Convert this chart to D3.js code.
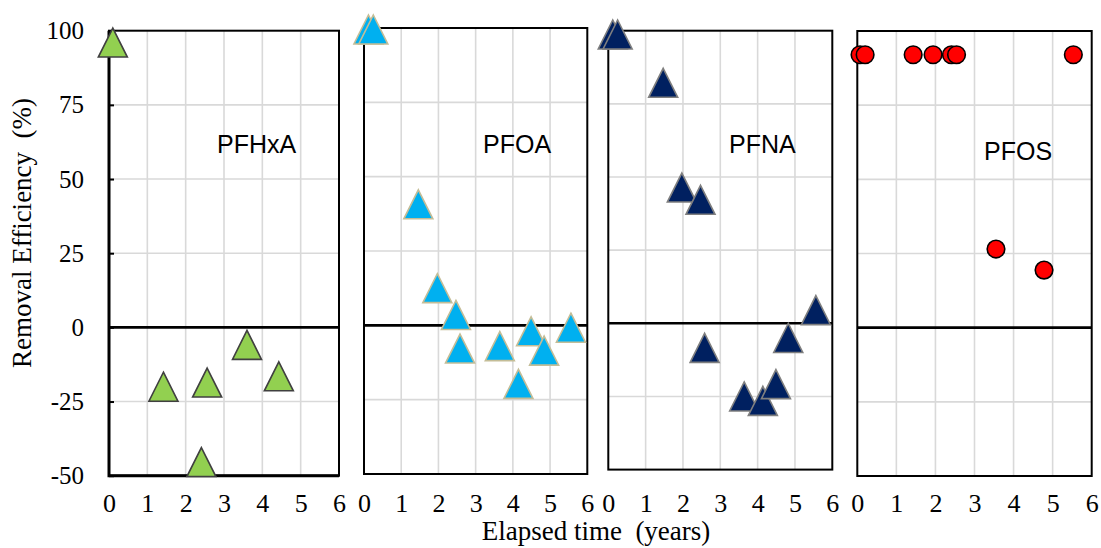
<!DOCTYPE html>
<html>
<head>
<meta charset="utf-8">
<script src="https://cdn.jsdelivr.net/npm/d3@7"></script>
<style>
  body { margin: 0; background: #fff; }
  svg { display: block; }
</style>
</head>
<body>
<svg id="chart" width="1101" height="548"></svg>
<script>
// values
var ticksX = [0, 1, 2, 3, 4, 5, 6];
var ticksY = [-50, -25, 0, 25, 50, 75, 100];
var compounds = ['PFHxA', 'PFOA', 'PFNA', 'PFOS'];

var pfhxaT = [0.1, 1.42, 2.41, 2.56, 3.6, 4.43];
var pfhxaE = [96, -20, -45.4, -18.6, -5.9, -16.5];

var pfoaT = [0.12, 0.25, 1.46, 1.97, 2.47, 2.58, 3.65, 4.15, 4.49, 4.84, 5.56];
var pfoaE = [99.5, 99.5, 40.7, 12.5, 3.5, -7.8, -7.0, -19.7, -2.0, -8.5, -0.8];

var pfnaT = [0.12, 0.25, 1.47, 1.97, 2.47, 2.58, 3.64, 4.14, 4.49, 4.82, 5.56];
var pfnaE = [98.7, 98.7, 82.2, 46.4, 42.2, -8.4, -25.0, -26.5, -20.8, -5.0, 4.5];

var pfosT = [0.07, 0.2, 1.43, 1.94, 2.41, 2.54, 3.55, 4.78, 5.53];
var pfosE = [92, 92, 92, 92, 92, 92, 26.5, 19.4, 92];

var seriesT = [pfhxaT, pfoaT, pfnaT, pfosT];
var seriesE = [pfhxaE, pfoaE, pfnaE, pfosE];

// layout of the four boxes (the source figure was pasted together, boxes are not perfectly aligned)
var boxes = [
    {x0: 109,   x1: 339,    y0: 30.7, y1: 475.7, lx: 217, ly: 153},
    {x0: 364,   x1: 587.3,  y0: 28,   y1: 474,   lx: 483, ly: 153},
    {x0: 608.3, x1: 832.3,  y0: 30.7, y1: 469.6, lx: 729, ly: 153},
    {x0: 857.3, x1: 1091.7, y0: 31,   y1: 476,   lx: 984, ly: 160}
];
var styles = [
    {shape: 'tri', fill: '#92D050', stroke: '#404040'},
    {shape: 'tri', fill: '#00B0F0', stroke: '#C4BD97'},
    {shape: 'tri', fill: '#002060', stroke: '#7F7F7F'},
    {shape: 'dot', fill: '#FF0000', stroke: '#000000'}
];

var svg = d3.select('#chart');
var serif = '"Liberation Serif", "Times New Roman", serif';
var sans = '"Liberation Sans", Arial, sans-serif';

var triPath = function(w, h)
{
    return 'M0,' + (-h / 2) + 'L' + (w / 2) + ',' + (h / 2) + 'L' + (-w / 2) + ',' + (h / 2) + 'Z';
};

compounds.forEach(function(name, i)
{
    var b = boxes[i];
    var st = styles[i];
    var x = d3.scaleLinear().domain([0, 6]).range([b.x0, b.x1]);
    var y = d3.scaleLinear().domain([-50, 100]).range([b.y1, b.y0]);
    var g = svg.append('g').attr('class', 'panel');

    // grid
    g.selectAll('.vgrid').data(ticksX.slice(1, -1)).enter()
        .append('line')
        .attr('x1', function(d) { return x(d); })
        .attr('x2', function(d) { return x(d); })
        .attr('y1', b.y0).attr('y2', b.y1)
        .attr('stroke', '#D9D9D9').attr('stroke-width', 1.6);
    g.selectAll('.hgrid').data(ticksY.filter(function(d) { return d !== 0 && d !== -50 && d !== 100; })).enter()
        .append('line')
        .attr('x1', b.x0).attr('x2', b.x1)
        .attr('y1', function(d) { return y(d); })
        .attr('y2', function(d) { return y(d); })
        .attr('stroke', '#D9D9D9').attr('stroke-width', 1.6);

    // zero line
    g.append('line')
        .attr('x1', b.x0).attr('x2', b.x1)
        .attr('y1', y(0)).attr('y2', y(0))
        .attr('stroke', '#000').attr('stroke-width', 2.6);

    // frame
    g.append('rect')
        .attr('x', b.x0).attr('y', b.y0)
        .attr('width', b.x1 - b.x0).attr('height', b.y1 - b.y0)
        .attr('fill', 'none').attr('stroke', '#000').attr('stroke-width', 2);

    if(i === 0)
    {
        g.append('path')
            .attr('d', 'M' + b.x0 + ',' + b.y0 + 'V' + b.y1 + 'H' + b.x1)
            .attr('fill', 'none').attr('stroke', '#000').attr('stroke-width', 3);

        var yAxis = d3.axisLeft(y).tickValues(ticksY).tickSize(-5).tickPadding(25)
            .tickFormat(d3.format('d'));
        var ya = g.append('g').attr('transform', 'translate(' + b.x0 + ',0)').call(yAxis);
        ya.select('.domain').remove();
        ya.selectAll('.tick line').attr('stroke', '#000').attr('stroke-width', 2);
        ya.selectAll('.tick text')
            .attr('font-family', serif).attr('font-size', 25).attr('fill', '#000')
            .text(function(d) { return String(d); });
    }

    // x labels, all on one row
    var xAxis = d3.axisBottom(x).tickValues(ticksX).tickSize(0).tickPadding(18)
        .tickFormat(d3.format('d'));
    var xa = g.append('g').attr('transform', 'translate(0,476)').call(xAxis);
    xa.select('.domain').remove();
    xa.selectAll('.tick text')
        .attr('font-family', serif).attr('font-size', 26).attr('fill', '#000');

    // compound label
    g.append('text')
        .attr('x', b.lx).attr('y', b.ly)
        .attr('font-family', sans).attr('font-size', 25).attr('fill', '#000')
        .text(name);

    // markers
    var pts = seriesT[i].map(function(t, k) { return {t: t, e: seriesE[i][k]}; });
    var marks = g.selectAll('.mark').data(pts).enter()
        .append('g')
        .attr('class', 'mark')
        .attr('transform', function(d) { return 'translate(' + x(d.t) + ',' + y(d.e) + ')'; });

    if(st.shape === 'tri')
    {
        marks.append('path')
            .attr('d', triPath(29, 29))
            .attr('fill', st.fill).attr('stroke', st.stroke)
            .attr('stroke-width', 1.6).attr('stroke-linejoin', 'miter');
    }
    else
    {
        marks.append('circle')
            .attr('r', 8.8)
            .attr('fill', st.fill).attr('stroke', st.stroke).attr('stroke-width', 1.6);
    }
});

// axis titles
svg.append('text')
    .attr('transform', 'translate(31,233) rotate(-90)')
    .attr('text-anchor', 'middle')
    .attr('font-family', serif).attr('font-size', 27).attr('fill', '#000')
    .text('Removal Efficiency\u00A0\u00A0(%)');

svg.append('text')
    .attr('x', 596).attr('y', 540)
    .attr('text-anchor', 'middle')
    .attr('font-family', serif).attr('font-size', 27).attr('fill', '#000')
    .text('Elapsed time\u00A0\u00A0(years)');
</script>
</body>
</html>
